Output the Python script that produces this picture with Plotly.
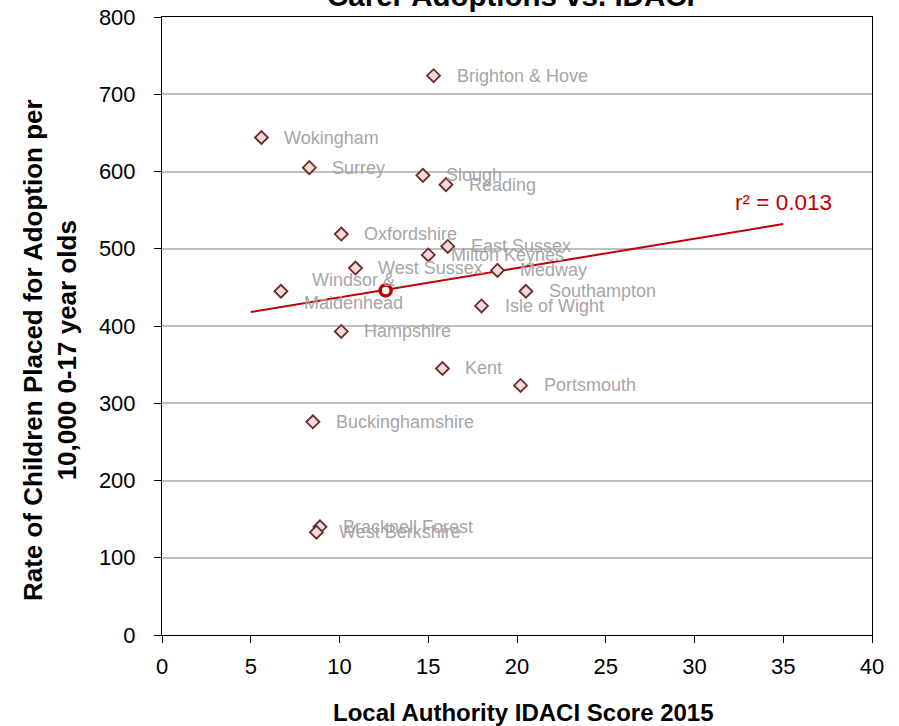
import plotly.graph_objects as go

# Local authorities: IDACI score vs rate of children placed for adoption
authorities = [
    "Brighton & Hove", "Wokingham", "Surrey", "Slough", "Reading",
    "Oxfordshire", "East Sussex", "Milton Keynes", "West Sussex", "Medway",
    "Windsor &<br>Maidenhead", "Southampton", "Isle of Wight", "Hampshire",
    "Kent", "Portsmouth", "Buckinghamshire", "Bracknell Forest", "West Berkshire",
]
idaci_score = [
    15.3, 5.6, 8.3, 14.7, 16.0,
    10.1, 16.1, 15.0, 10.9, 18.9,
    6.7, 20.5, 18.0, 10.1,
    15.8, 20.2, 8.5, 8.9, 8.7,
]
adoption_rate = [
    724, 644, 605, 595, 583,
    519, 503, 492, 475, 472,
    445, 445, 426, 393,
    345, 323, 276, 140, 133,
]

# average point (red ring)
avg_x = [12.6]
avg_y = [446]

# linear trend line end points
trend_x = [5, 35]
trend_y = [418, 532]
r_squared = "r² = 0.013"

x_ticks = list(range(0, 41, 5))
y_ticks = list(range(0, 801, 100))

FONT = "Liberation Sans, Arial, sans-serif"

fig = go.Figure()

fig.add_trace(go.Scatter(
    x=trend_x, y=trend_y, mode="lines",
    line=dict(color="#c00000", width=2),
    hoverinfo="skip",
))

fig.add_trace(go.Scatter(
    x=idaci_score, y=adoption_rate, mode="markers",
    marker=dict(symbol="diamond", size=10, color="#f2dcdb",
                line=dict(color="#6e2a28", width=1.8)),
    text=authorities,
))

fig.add_trace(go.Scatter(
    x=avg_x, y=avg_y, mode="markers",
    marker=dict(symbol="circle", size=11, color="white",
                line=dict(color="#c00000", width=3.5)),
))

annotations = []
for name, x, y in zip(authorities, idaci_score, adoption_rate):
    annotations.append(dict(
        x=x, y=y, text=name, showarrow=False,
        xanchor="left", yanchor="middle", xshift=21,
        align="center",
        font=dict(family=FONT, size=18, color="#a6a6a6"),
    ))

annotations.append(dict(
    x=trend_x[-1], y=trend_y[-1], text=r_squared, showarrow=False,
    xanchor="center", yanchor="bottom", yshift=7,
    font=dict(family=FONT, size=22.5, color="#c00000"),
))

annotations.append(dict(
    x=0.491, y=1, xref="paper", yref="paper",
    text="<b>Carer Adoptions vs. IDACI</b>", showarrow=False,
    xanchor="center", yanchor="bottom", yshift=3,
    font=dict(family=FONT, size=29.5, color="black"),
))
annotations.append(dict(
    x=0.5, y=0, xref="paper", yref="paper",
    text="<b>Local Authority IDACI Score 2015</b>", showarrow=False,
    xanchor="center", yanchor="middle", yshift=-77, xshift=6,
    font=dict(family=FONT, size=24, color="black"),
))
annotations.append(dict(
    x=0, y=0.461, xref="paper", yref="paper",
    text="<b>Rate of Children Placed for Adoption per<br>10,000 0-17 year olds</b>",
    showarrow=False, textangle=-90,
    xanchor="center", yanchor="middle", xshift=-112,
    font=dict(family=FONT, size=26, color="black"),
))

fig.update_layout(
    width=899, height=726,
    margin=dict(l=162, r=27, t=17, b=91),
    paper_bgcolor="white", plot_bgcolor="white",
    showlegend=False,
    font=dict(family=FONT, size=22, color="black"),
    annotations=annotations,
)

fig.update_xaxes(
    range=[0, 40], tickvals=x_ticks, automargin=False,
    showgrid=False, zeroline=False,
    showline=True, linecolor="black", linewidth=1, mirror=True,
    ticks="outside", ticklen=7, tickcolor="black",
    ticklabelstandoff=5,
    tickfont=dict(family=FONT, size=22, color="black"),
)
fig.update_yaxes(
    range=[0, 800], tickvals=y_ticks, automargin=False,
    showgrid=True, gridcolor="#bfbfbf", gridwidth=2, zeroline=False,
    showline=True, linecolor="black", linewidth=1, mirror=True,
    ticks="outside", ticklen=7, tickcolor="black",
    ticklabelstandoff=14,
    tickfont=dict(family=FONT, size=22, color="black"),
)

# page body has a default 8px margin; drop it so the figure sits at 0,0
fig.write_html(
    "out.html",
    config={"displayModeBar": False},
    post_script="document.body.style.margin='0';",
)
